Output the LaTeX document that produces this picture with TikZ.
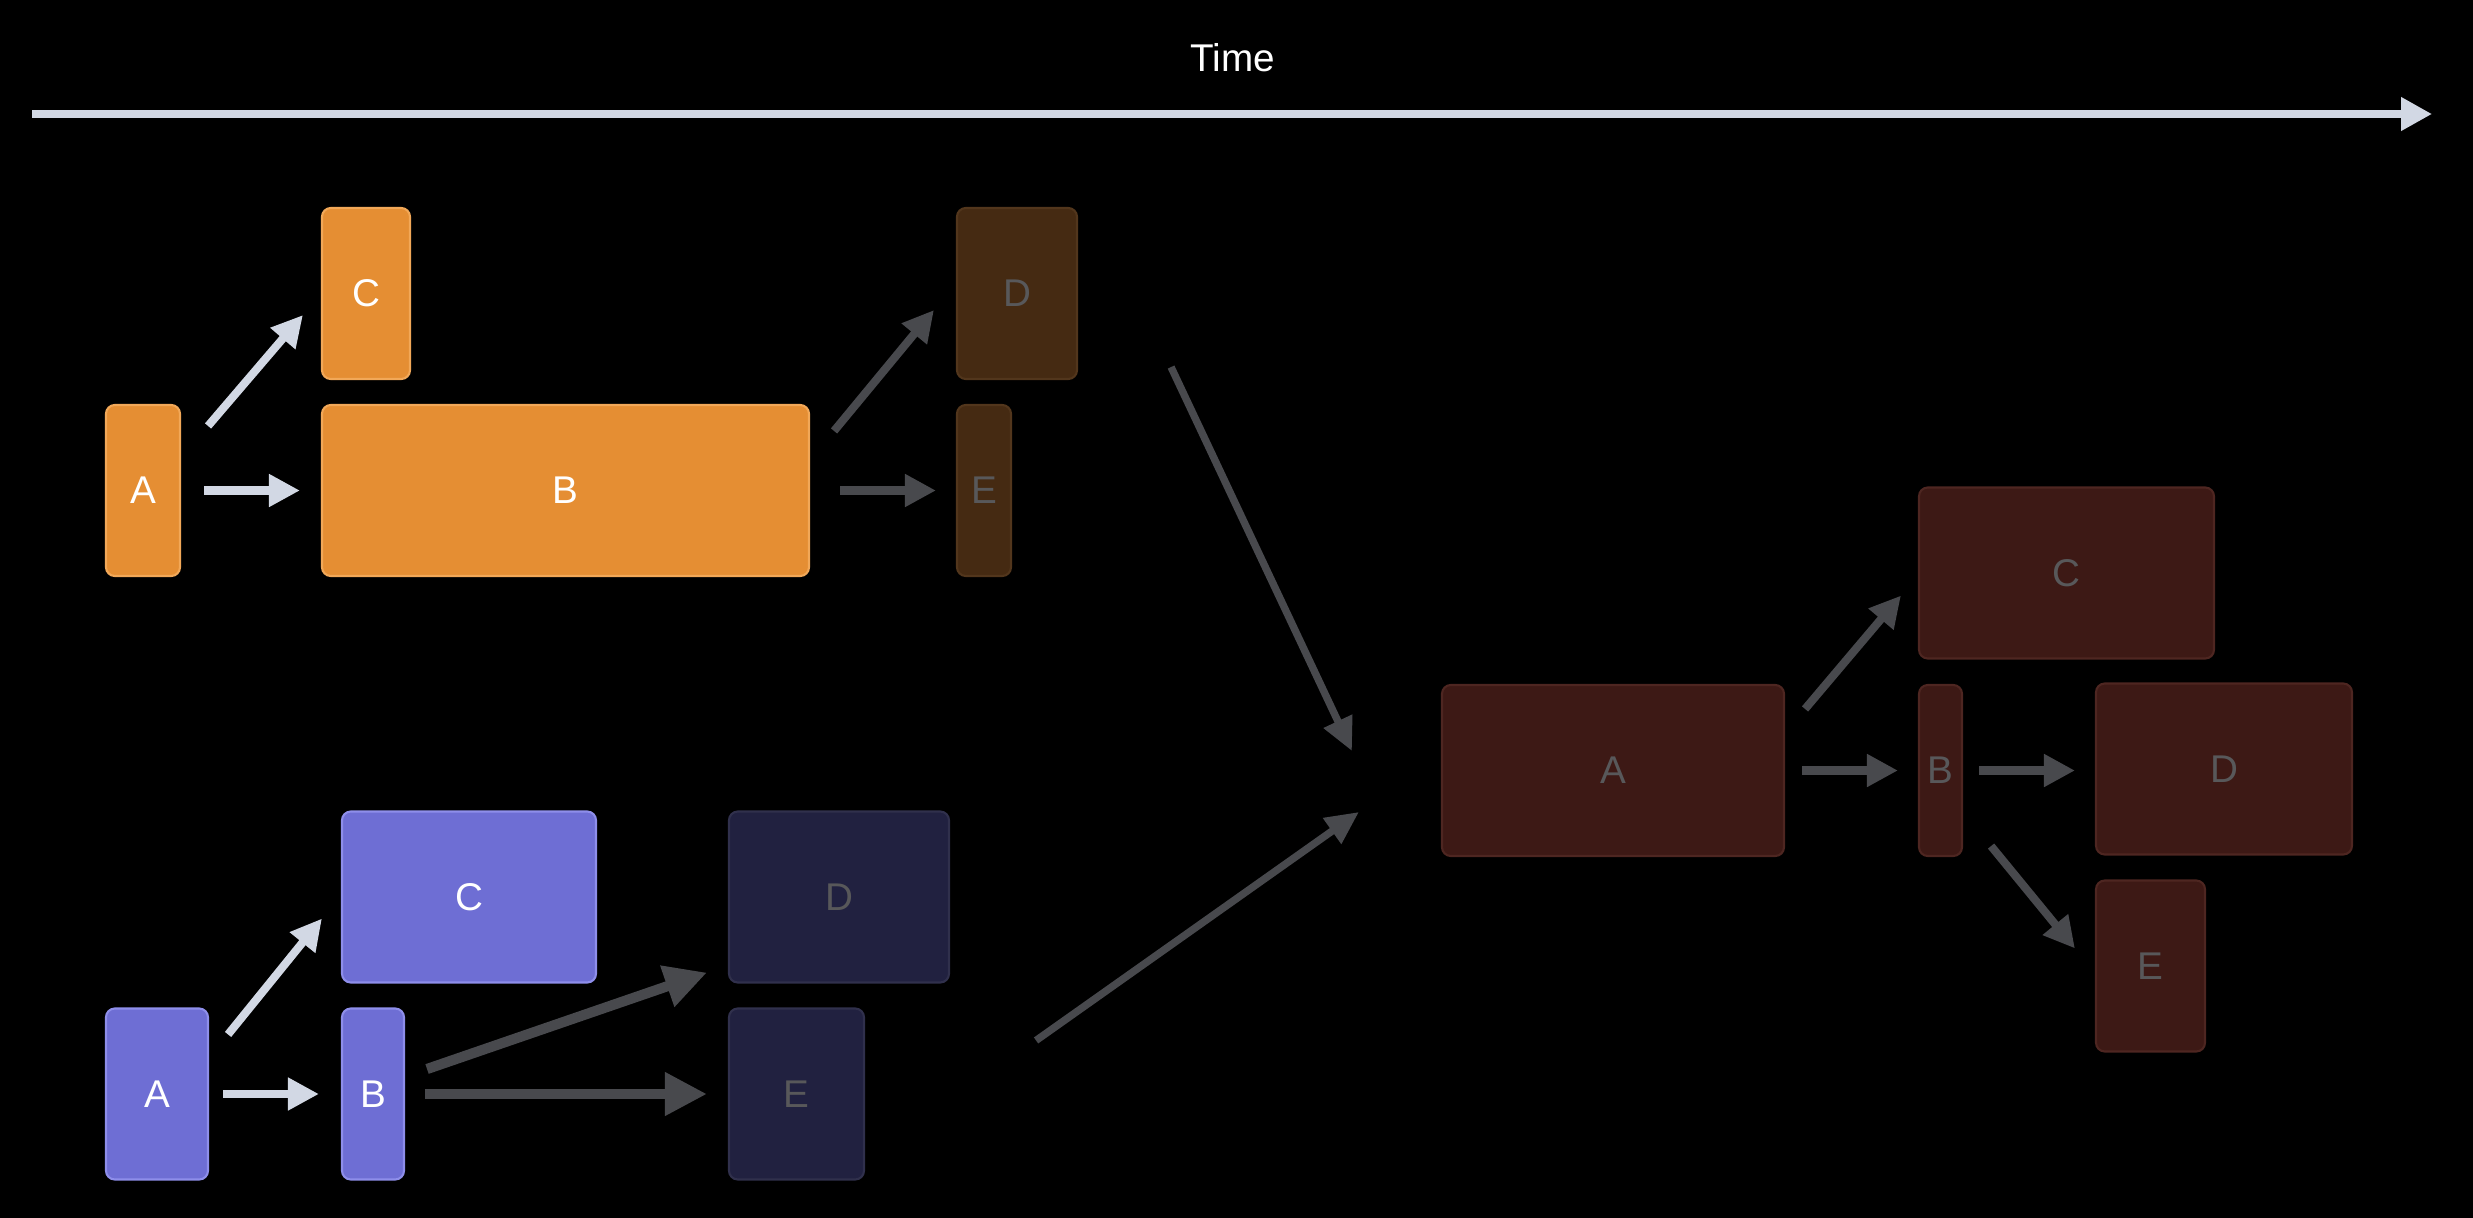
\documentclass[tikz,border=0pt]{standalone}
\usepackage{fontspec}
\setmainfont{Liberation Sans}
\usetikzlibrary{arrows.meta,calc}
\definecolor{orng}{RGB}{229,142,51}
\definecolor{orngE}{RGB}{242,168,88}
\definecolor{orngD}{RGB}{69,42,18}
\definecolor{orngDE}{RGB}{82,54,28}
\definecolor{purp}{RGB}{110,110,212}
\definecolor{purpE}{RGB}{142,142,234}
\definecolor{purpD}{RGB}{33,33,64}
\definecolor{purpDE}{RGB}{48,48,76}
\definecolor{maro}{RGB}{61,25,21}
\definecolor{maroE}{RGB}{78,38,33}
\definecolor{lite}{RGB}{210,216,228}
\definecolor{dim}{RGB}{72,73,77}
\definecolor{dimtxt}{RGB}{88,88,90}
\tikzset{
  task/.style={rounded corners=2.5pt,line width=0.6pt,minimum height=1.71cm,
    inner sep=0pt,font=\fontsize{11}{13}\selectfont},
  obox/.style={task,draw=orngE,fill=orng,text=white},
  odim/.style={task,draw=orngDE,fill=orngD,text=dimtxt},
  pbox/.style={task,draw=purpE,fill=purp,text=white},
  pdim/.style={task,draw=purpDE,fill=purpD,text=dimtxt},
  rbox/.style={task,draw=maroE,fill=maro,text=dimtxt},
  arr/.style={-{Triangle[length=3.1mm,width=3.1mm]},line width=2.3pt,lite},
  dep/.style={-{Triangle[length=3.1mm,width=3.1mm]},line width=2.3pt,dim},
  fat/.style={-{Triangle[length=4.2mm,width=4.1mm]},line width=2.9pt,dim},
  far/.style={-{Triangle[length=3.3mm,width=3mm]},line width=2.1pt,dim},
}

\begin{document}
\begin{tikzpicture}
\fill[black] (0,0) rectangle (24.73,-12.18);
\useasboundingbox (0,0) rectangle (24.73,-12.18);
% time axis
\node[text=white,font=\fontsize{11}{13}\selectfont] (time) at (12.33,-0.58) {Time};
\coordinate (t0) at (0.32,-1.14);
\coordinate (t1) at (24.32,-1.14);
\draw[-{Triangle[length=3.1mm,width=3.2mm]},line width=2.1pt,lite] (t0) -- (t1);
% orange run
\node[obox,minimum width=0.74cm] (tA) at (1.43,-4.905) {A};
\node[obox,minimum width=0.88cm] (tC) at (3.66,-2.935) {C};
\node[obox,minimum width=4.87cm] (tB) at (5.655,-4.905) {B};
\node[odim,minimum width=1.20cm] (tD) at (10.17,-2.935) {D};
\node[odim,minimum width=0.54cm] (tE) at (9.84,-4.905) {E};
\draw[arr] ($(tA.north east)+(.27,-.22)$) -- ($(tC.south west)+(-.18,.65)$);
\draw[arr] ($(tA.east)+(.23,0)$) -- ($(tB.west)+(-.21,0)$);
\draw[dep] ($(tB.north east)+(.24,-.27)$) -- ($(tD.south west)+(-.22,.70)$);
\draw[dep] ($(tB.east)+(.30,0)$) -- ($(tE.west)+(-.20,0)$);
% purple run
\node[pbox,minimum width=1.02cm] (bA) at (1.57,-10.94) {A};
\node[pbox,minimum width=2.54cm] (bC) at (4.69,-8.97) {C};
\node[pbox,minimum width=0.62cm] (bB) at (3.73,-10.94) {B};
\node[pdim,minimum width=2.20cm] (bD) at (8.39,-8.97) {D};
\node[pdim,minimum width=1.35cm] (bE) at (7.965,-10.94) {E};
\draw[arr] ($(bA.north east)+(.19,-.27)$) -- ($(bC.south west)+(-.19,.65)$);
\draw[arr] ($(bA.east)+(.14,0)$) -- ($(bB.west)+(-.22,0)$);
\draw[fat] ($(bB.east)+(.22,.25)$) -- ($(bD.south west)+(-.21,.11)$);
\draw[fat] ($(bB.east)+(.20,0)$) -- ($(bE.west)+(-.21,0)$);
% merged run
\node[rbox,minimum width=3.42cm] (rA) at (16.13,-7.705) {A};
\node[rbox,minimum width=2.95cm] (rC) at (20.665,-5.73) {C};
\node[rbox,minimum width=0.43cm] (rB) at (19.405,-7.705) {B};
\node[rbox,minimum width=2.56cm] (rD) at (22.24,-7.69) {D};
\node[rbox,minimum width=1.09cm] (rE) at (21.505,-9.66) {E};
\draw[dep] ($(rA.north east)+(.20,-.25)$) -- ($(rC.south west)+(-.17,.64)$);
\draw[dep] ($(rA.east)+(.17,0)$) -- ($(rB.west)+(-.20,0)$);
\draw[dep] ($(rB.east)+(.16,0)$) -- ($(rB.east -| rD.west)+(-.20,0)$);
\draw[dep] ($(rB.south east)+(.28,.11)$) -- ($(rE.north west)+(-.20,-.69)$);
% join
\draw[far] ($(tD.south east)+(.93,.13)$) -- ($(rA.west)+(-.89,.195)$);
\draw[far] ($(bE.north east)+(1.71,-.33)$) -- ($(rA.west)+(-.82,-.415)$);
\end{tikzpicture}
\end{document}
